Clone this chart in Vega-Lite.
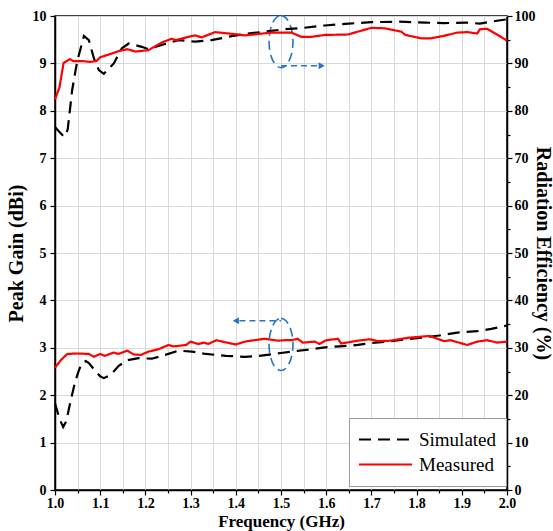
{
  "$schema": "https://vega.github.io/schema/vega-lite/v6.json",
  "width": 452,
  "height": 474,
  "autosize": {"type": "none"},
  "padding": {"left": 55, "top": 16, "right": 46, "bottom": 41},
  "background": "white",
  "config": {
    "font": "Liberation Serif",
    "view": {"stroke": "black", "strokeWidth": 1.5},
    "legend": {"labelFont": "Liberation Serif", "titleFont": "Liberation Serif"},
    "axis": {
      "labelFont": "Liberation Serif", "labelFontWeight": "bold", "labelFontSize": 14, "labelColor": "black", "labelFlush": false,
      "titleFont": "Liberation Serif", "titleFontWeight": "bold", "titleColor": "black",
      "domainColor": "black", "domainWidth": 1.5, "tickColor": "black", "tickWidth": 1.2,
      "gridColor": "#d9d9d9", "gridWidth": 1
    }
  },
  "datasets": {
    "curves": [
      {"f":1.0,"v":1.83,"type":"Simulated","q":"gain"},{"f":1.01,"v":1.5,"type":"Simulated","q":"gain"},{"f":1.018,"v":1.33,"type":"Simulated","q":"gain"},{"f":1.025,"v":1.45,"type":"Simulated","q":"gain"},{"f":1.035,"v":1.9,"type":"Simulated","q":"gain"},{"f":1.045,"v":2.3,"type":"Simulated","q":"gain"},{"f":1.053,"v":2.53,"type":"Simulated","q":"gain"},{"f":1.06,"v":2.68,"type":"Simulated","q":"gain"},{"f":1.068,"v":2.72,"type":"Simulated","q":"gain"},{"f":1.075,"v":2.68,"type":"Simulated","q":"gain"},{"f":1.09,"v":2.5,"type":"Simulated","q":"gain"},{"f":1.1,"v":2.4,"type":"Simulated","q":"gain"},{"f":1.108,"v":2.36,"type":"Simulated","q":"gain"},{"f":1.122,"v":2.42,"type":"Simulated","q":"gain"},{"f":1.141,"v":2.62,"type":"Simulated","q":"gain"},{"f":1.16,"v":2.74,"type":"Simulated","q":"gain"},{"f":1.185,"v":2.78,"type":"Simulated","q":"gain"},{"f":1.214,"v":2.77,"type":"Simulated","q":"gain"},{"f":1.244,"v":2.85,"type":"Simulated","q":"gain"},{"f":1.273,"v":2.94,"type":"Simulated","q":"gain"},{"f":1.303,"v":2.92,"type":"Simulated","q":"gain"},{"f":1.334,"v":2.87,"type":"Simulated","q":"gain"},{"f":1.378,"v":2.83,"type":"Simulated","q":"gain"},{"f":1.42,"v":2.81,"type":"Simulated","q":"gain"},{"f":1.452,"v":2.83,"type":"Simulated","q":"gain"},{"f":1.5,"v":2.89,"type":"Simulated","q":"gain"},{"f":1.523,"v":2.92,"type":"Simulated","q":"gain"},{"f":1.56,"v":2.96,"type":"Simulated","q":"gain"},{"f":1.597,"v":3.01,"type":"Simulated","q":"gain"},{"f":1.63,"v":3.03,"type":"Simulated","q":"gain"},{"f":1.67,"v":3.06,"type":"Simulated","q":"gain"},{"f":1.7,"v":3.1,"type":"Simulated","q":"gain"},{"f":1.743,"v":3.14,"type":"Simulated","q":"gain"},{"f":1.78,"v":3.18,"type":"Simulated","q":"gain"},{"f":1.816,"v":3.22,"type":"Simulated","q":"gain"},{"f":1.85,"v":3.26,"type":"Simulated","q":"gain"},{"f":1.89,"v":3.32,"type":"Simulated","q":"gain"},{"f":1.934,"v":3.35,"type":"Simulated","q":"gain"},{"f":1.965,"v":3.4,"type":"Simulated","q":"gain"},{"f":2.0,"v":3.47,"type":"Simulated","q":"gain"},
      {"f":1.0,"v":2.58,"type":"Measured","q":"gain"},{"f":1.013,"v":2.74,"type":"Measured","q":"gain"},{"f":1.027,"v":2.87,"type":"Measured","q":"gain"},{"f":1.05,"v":2.88,"type":"Measured","q":"gain"},{"f":1.075,"v":2.87,"type":"Measured","q":"gain"},{"f":1.086,"v":2.81,"type":"Measured","q":"gain"},{"f":1.1,"v":2.87,"type":"Measured","q":"gain"},{"f":1.11,"v":2.83,"type":"Measured","q":"gain"},{"f":1.13,"v":2.9,"type":"Measured","q":"gain"},{"f":1.14,"v":2.87,"type":"Measured","q":"gain"},{"f":1.16,"v":2.94,"type":"Measured","q":"gain"},{"f":1.174,"v":2.86,"type":"Measured","q":"gain"},{"f":1.19,"v":2.85,"type":"Measured","q":"gain"},{"f":1.207,"v":2.92,"type":"Measured","q":"gain"},{"f":1.229,"v":2.97,"type":"Measured","q":"gain"},{"f":1.251,"v":3.06,"type":"Measured","q":"gain"},{"f":1.262,"v":3.03,"type":"Measured","q":"gain"},{"f":1.273,"v":3.04,"type":"Measured","q":"gain"},{"f":1.29,"v":3.06,"type":"Measured","q":"gain"},{"f":1.3,"v":3.13,"type":"Measured","q":"gain"},{"f":1.317,"v":3.08,"type":"Measured","q":"gain"},{"f":1.33,"v":3.11,"type":"Measured","q":"gain"},{"f":1.339,"v":3.08,"type":"Measured","q":"gain"},{"f":1.357,"v":3.16,"type":"Measured","q":"gain"},{"f":1.375,"v":3.12,"type":"Measured","q":"gain"},{"f":1.4,"v":3.07,"type":"Measured","q":"gain"},{"f":1.42,"v":3.13,"type":"Measured","q":"gain"},{"f":1.44,"v":3.16,"type":"Measured","q":"gain"},{"f":1.464,"v":3.19,"type":"Measured","q":"gain"},{"f":1.493,"v":3.15,"type":"Measured","q":"gain"},{"f":1.508,"v":3.16,"type":"Measured","q":"gain"},{"f":1.523,"v":3.16,"type":"Measured","q":"gain"},{"f":1.537,"v":3.19,"type":"Measured","q":"gain"},{"f":1.548,"v":3.11,"type":"Measured","q":"gain"},{"f":1.575,"v":3.13,"type":"Measured","q":"gain"},{"f":1.585,"v":3.08,"type":"Measured","q":"gain"},{"f":1.6,"v":3.16,"type":"Measured","q":"gain"},{"f":1.626,"v":3.19,"type":"Measured","q":"gain"},{"f":1.633,"v":3.09,"type":"Measured","q":"gain"},{"f":1.67,"v":3.15,"type":"Measured","q":"gain"},{"f":1.696,"v":3.18,"type":"Measured","q":"gain"},{"f":1.714,"v":3.14,"type":"Measured","q":"gain"},{"f":1.743,"v":3.15,"type":"Measured","q":"gain"},{"f":1.78,"v":3.21,"type":"Measured","q":"gain"},{"f":1.828,"v":3.25,"type":"Measured","q":"gain"},{"f":1.861,"v":3.14,"type":"Measured","q":"gain"},{"f":1.875,"v":3.16,"type":"Measured","q":"gain"},{"f":1.912,"v":3.06,"type":"Measured","q":"gain"},{"f":1.934,"v":3.13,"type":"Measured","q":"gain"},{"f":1.956,"v":3.16,"type":"Measured","q":"gain"},{"f":1.978,"v":3.11,"type":"Measured","q":"gain"},{"f":2.0,"v":3.13,"type":"Measured","q":"gain"},
      {"f":1.0,"v":76.6,"type":"Simulated","q":"eff"},{"f":1.01,"v":75.5,"type":"Simulated","q":"eff"},{"f":1.02,"v":74.5,"type":"Simulated","q":"eff"},{"f":1.028,"v":76.0,"type":"Simulated","q":"eff"},{"f":1.038,"v":84.4,"type":"Simulated","q":"eff"},{"f":1.049,"v":90.4,"type":"Simulated","q":"eff"},{"f":1.064,"v":95.8,"type":"Simulated","q":"eff"},{"f":1.075,"v":94.9,"type":"Simulated","q":"eff"},{"f":1.086,"v":91.1,"type":"Simulated","q":"eff"},{"f":1.097,"v":88.6,"type":"Simulated","q":"eff"},{"f":1.108,"v":87.8,"type":"Simulated","q":"eff"},{"f":1.13,"v":90.0,"type":"Simulated","q":"eff"},{"f":1.148,"v":93.2,"type":"Simulated","q":"eff"},{"f":1.163,"v":94.2,"type":"Simulated","q":"eff"},{"f":1.192,"v":93.5,"type":"Simulated","q":"eff"},{"f":1.207,"v":93.0,"type":"Simulated","q":"eff"},{"f":1.236,"v":93.9,"type":"Simulated","q":"eff"},{"f":1.273,"v":94.9,"type":"Simulated","q":"eff"},{"f":1.31,"v":94.6,"type":"Simulated","q":"eff"},{"f":1.346,"v":94.9,"type":"Simulated","q":"eff"},{"f":1.383,"v":95.6,"type":"Simulated","q":"eff"},{"f":1.42,"v":96.2,"type":"Simulated","q":"eff"},{"f":1.464,"v":96.7,"type":"Simulated","q":"eff"},{"f":1.508,"v":97.2,"type":"Simulated","q":"eff"},{"f":1.55,"v":97.5,"type":"Simulated","q":"eff"},{"f":1.597,"v":98.0,"type":"Simulated","q":"eff"},{"f":1.65,"v":98.4,"type":"Simulated","q":"eff"},{"f":1.7,"v":98.7,"type":"Simulated","q":"eff"},{"f":1.76,"v":98.8,"type":"Simulated","q":"eff"},{"f":1.82,"v":98.6,"type":"Simulated","q":"eff"},{"f":1.86,"v":98.5,"type":"Simulated","q":"eff"},{"f":1.91,"v":98.6,"type":"Simulated","q":"eff"},{"f":1.94,"v":98.4,"type":"Simulated","q":"eff"},{"f":1.978,"v":99.0,"type":"Simulated","q":"eff"},{"f":2.0,"v":99.3,"type":"Simulated","q":"eff"},
      {"f":1.0,"v":82.4,"type":"Measured","q":"eff"},{"f":1.01,"v":85.0,"type":"Measured","q":"eff"},{"f":1.019,"v":90.1,"type":"Measured","q":"eff"},{"f":1.033,"v":90.9,"type":"Measured","q":"eff"},{"f":1.04,"v":90.5,"type":"Measured","q":"eff"},{"f":1.062,"v":90.5,"type":"Measured","q":"eff"},{"f":1.077,"v":90.3,"type":"Measured","q":"eff"},{"f":1.092,"v":90.5,"type":"Measured","q":"eff"},{"f":1.1,"v":91.3,"type":"Measured","q":"eff"},{"f":1.12,"v":91.9,"type":"Measured","q":"eff"},{"f":1.141,"v":92.6,"type":"Measured","q":"eff"},{"f":1.16,"v":93.0,"type":"Measured","q":"eff"},{"f":1.178,"v":92.5,"type":"Measured","q":"eff"},{"f":1.207,"v":92.8,"type":"Measured","q":"eff"},{"f":1.236,"v":94.4,"type":"Measured","q":"eff"},{"f":1.258,"v":95.2,"type":"Measured","q":"eff"},{"f":1.268,"v":94.9,"type":"Measured","q":"eff"},{"f":1.295,"v":95.6,"type":"Measured","q":"eff"},{"f":1.31,"v":95.9,"type":"Measured","q":"eff"},{"f":1.325,"v":95.5,"type":"Measured","q":"eff"},{"f":1.354,"v":96.6,"type":"Measured","q":"eff"},{"f":1.375,"v":96.4,"type":"Measured","q":"eff"},{"f":1.405,"v":96.1,"type":"Measured","q":"eff"},{"f":1.42,"v":95.9,"type":"Measured","q":"eff"},{"f":1.449,"v":96.2,"type":"Measured","q":"eff"},{"f":1.478,"v":96.5,"type":"Measured","q":"eff"},{"f":1.523,"v":96.5,"type":"Measured","q":"eff"},{"f":1.545,"v":95.6,"type":"Measured","q":"eff"},{"f":1.567,"v":95.6,"type":"Measured","q":"eff"},{"f":1.597,"v":96.0,"type":"Measured","q":"eff"},{"f":1.648,"v":96.1,"type":"Measured","q":"eff"},{"f":1.7,"v":97.5,"type":"Measured","q":"eff"},{"f":1.73,"v":97.4,"type":"Measured","q":"eff"},{"f":1.766,"v":96.7,"type":"Measured","q":"eff"},{"f":1.775,"v":96.0,"type":"Measured","q":"eff"},{"f":1.81,"v":95.3,"type":"Measured","q":"eff"},{"f":1.832,"v":95.3,"type":"Measured","q":"eff"},{"f":1.86,"v":95.8,"type":"Measured","q":"eff"},{"f":1.89,"v":96.5,"type":"Measured","q":"eff"},{"f":1.913,"v":96.6,"type":"Measured","q":"eff"},{"f":1.934,"v":96.3,"type":"Measured","q":"eff"},{"f":1.94,"v":97.2,"type":"Measured","q":"eff"},{"f":1.956,"v":97.3,"type":"Measured","q":"eff"},{"f":1.978,"v":96.1,"type":"Measured","q":"eff"},{"f":2.0,"v":94.8,"type":"Measured","q":"eff"}
    ],
    "ellipses": [{"f":1.5,"v":9.46},{"f":1.5,"v":3.07}],
    "arrows": [{"id":"up","f":1.5,"v":8.95},{"id":"up","f":1.583,"v":8.95},{"id":"low","f":1.5,"v":3.57},{"id":"low","f":1.408,"v":3.57}],
    "headsRight": [{"f":1.59,"v":8.95}],
    "headsLeft": [{"f":1.4,"v":3.57}]
  },
  "encoding": {
    "x": {
      "field": "f", "type": "quantitative", "title": "Frequency (GHz)",
      "scale": {"domain": [1, 2], "nice": false},
      "axis": {
        "values": [1,1.05,1.1,1.15,1.2,1.25,1.3,1.35,1.4,1.45,1.5,1.55,1.6,1.65,1.7,1.75,1.8,1.85,1.9,1.95,2],
        "format": ".1f",
        "labelExpr": "round(datum.value*100) % 10 == 0 ? datum.label : ''",
        "tickSize": {"condition": {"test": "round(datum.value*100) % 10 != 0", "value": 3}, "value": 5},
        "labelPadding": 1, "titleFontSize": 17, "titlePadding": 3, "grid": true
      }
    }
  },
  "layer": [
    {
      "layer": [
        {
          "data": {"name": "curves"},
          "transform": [{"filter": "datum.q == 'gain'"}],
          "mark": {"type": "line", "strokeWidth": 2.2},
          "encoding": {
            "y": {
              "field": "v", "type": "quantitative", "title": "Peak Gain (dBi)",
              "scale": {"domain": [0, 10], "nice": false},
              "axis": {
                "orient": "left",
                "values": [0,0.5,1,1.5,2,2.5,3,3.5,4,4.5,5,5.5,6,6.5,7,7.5,8,8.5,9,9.5,10],
                "labelExpr": "datum.value % 1 == 0 ? datum.label : ''",
                "tickSize": {"condition": {"test": "datum.value % 1 != 0", "value": 3}, "value": 5},
                "gridOpacity": {"condition": {"test": "datum.value % 1 != 0", "value": 0}, "value": 1},
                "labelPadding": 4, "titleFontSize": 20, "titlePadding": 6
              }
            },
            "color": {
              "field": "type", "type": "nominal", "title": null,
              "scale": {"domain": ["Simulated", "Measured"], "range": ["black", "#ff0000"]},
              "legend": {
                "orient": "none", "legendX": 294, "legendY": 402, "direction": "vertical",
                "symbolType": "stroke", "symbolSize": 2809, "symbolStrokeWidth": 2, "clipHeight": 25,
                "labelFont": "Liberation Serif", "labelFontSize": 19, "labelColor": "black", "labelOffset": 6,
                "padding": 9, "rowPadding": 0,
                "fillColor": "white", "strokeColor": "#999999"
              }
            },
            "strokeDash": {
              "field": "type", "type": "nominal", "title": null,
              "scale": {"domain": ["Simulated", "Measured"], "range": [[12, 7], [1, 0]]},
              "legend": {
                "orient": "none", "legendX": 294, "legendY": 402, "direction": "vertical",
                "symbolType": "stroke", "symbolSize": 2809, "symbolStrokeWidth": 2, "clipHeight": 25,
                "labelFont": "Liberation Serif", "labelFontSize": 19, "labelColor": "black", "labelOffset": 6,
                "padding": 9, "rowPadding": 0,
                "fillColor": "white", "strokeColor": "#999999"
              }
            }
          }
        },
        {
          "data": {"name": "arrows"},
          "mark": {"type": "line", "color": "#2176c7", "strokeWidth": 1.6, "strokeDash": [6, 4]},
          "encoding": {
            "y": {"field": "v", "type": "quantitative", "title": "Peak Gain (dBi)", "scale": {"domain": [0, 10], "nice": false}},
            "detail": {"field": "id", "type": "nominal"}
          }
        },
        {
          "data": {"name": "ellipses"},
          "mark": {"type": "point", "shape": "M 0 -1 A 0.46 1 0 1 1 0 1 A 0.46 1 0 1 1 0 -1 Z", "size": 2704, "filled": false, "stroke": "#2176c7", "strokeWidth": 1.6, "strokeDash": [9, 5], "opacity": 1},
          "encoding": {
            "y": {"field": "v", "type": "quantitative", "title": "Peak Gain (dBi)", "scale": {"domain": [0, 10], "nice": false}}
          }
        },
        {
          "data": {"name": "headsRight"},
          "mark": {"type": "point", "shape": "triangle-right", "size": 50, "filled": true, "color": "#2176c7", "opacity": 1},
          "encoding": {
            "y": {"field": "v", "type": "quantitative", "title": "Peak Gain (dBi)", "scale": {"domain": [0, 10], "nice": false}}
          }
        },
        {
          "data": {"name": "headsLeft"},
          "mark": {"type": "point", "shape": "triangle-left", "size": 50, "filled": true, "color": "#2176c7", "opacity": 1},
          "encoding": {
            "y": {"field": "v", "type": "quantitative", "title": "Peak Gain (dBi)", "scale": {"domain": [0, 10], "nice": false}}
          }
        }
      ]
    },
    {
      "data": {"name": "curves"},
      "transform": [{"filter": "datum.q == 'eff'"}],
      "mark": {"type": "line", "strokeWidth": 2.2},
      "encoding": {
        "y": {
          "field": "v", "type": "quantitative", "title": "Radiation Efficiency (%)",
          "scale": {"domain": [0, 100], "nice": false},
          "axis": {
            "orient": "right",
            "values": [0,5,10,15,20,25,30,35,40,45,50,55,60,65,70,75,80,85,90,95,100],
            "labelExpr": "datum.value % 10 == 0 ? datum.label : ''",
            "tickSize": {"condition": {"test": "datum.value % 10 != 0", "value": 3}, "value": 5},
            "grid": false, "labelPadding": 2, "titleFontSize": 20, "titlePadding": -3, "titleAngle": 90
          }
        },
        "color": {"field": "type", "type": "nominal", "title": null, "scale": {"domain": ["Simulated", "Measured"], "range": ["black", "#ff0000"]}},
        "strokeDash": {"field": "type", "type": "nominal", "title": null, "scale": {"domain": ["Simulated", "Measured"], "range": [[12, 7], [1, 0]]}}
      }
    }
  ],
  "resolve": {"scale": {"y": "independent"}}
}
